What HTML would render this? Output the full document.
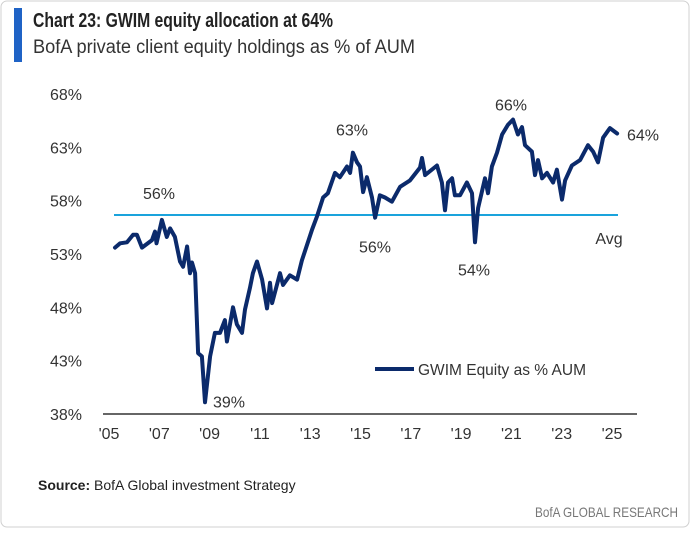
<!DOCTYPE html>
<html><head><meta charset="utf-8"><style>
html,body{margin:0;padding:0;background:#fff;}
body{width:690px;height:528px;overflow:hidden;font-family:"Liberation Sans Narrow","Liberation Sans",sans-serif;}
</style></head><body>
<svg width="690" height="528" xmlns="http://www.w3.org/2000/svg" id="svg">
<rect x="1" y="1" width="688" height="526" rx="6" fill="#fff" stroke="#d0d0d0"/>
<rect x="14" y="8" width="8" height="54" fill="#1f63c6"/>
<text x="33" y="27" font-size="20" font-weight="bold" fill="#222" textLength="300" lengthAdjust="spacingAndGlyphs">Chart 23: GWIM equity allocation at 64%</text>
<text x="33" y="53" font-size="19" fill="#333" textLength="382" lengthAdjust="spacingAndGlyphs">BofA private client equity holdings as % of AUM</text>
<g id="yaxis"></g>
<g id="xaxis"></g>
<g id="plot"></g>
<g id="ann"></g>
<line x1="375" y1="369" x2="414" y2="369" stroke="#0b2a6b" stroke-width="4"/>
<text x="418" y="375" font-size="16" fill="#333" textLength="168" lengthAdjust="spacingAndGlyphs">GWIM Equity as % AUM</text>
<text x="38" y="490" font-size="14" fill="#222"><tspan font-weight="bold">Source:</tspan> BofA Global investment Strategy</text>
<text x="535" y="517" font-size="14" fill="#777" textLength="143" lengthAdjust="spacingAndGlyphs">BofA GLOBAL RESEARCH</text>
</svg>
<script>
const yTicks=[68,63,58,53,48,43,38];
const xTickYears=[2005,2007,2009,2011,2013,2015,2017,2019,2021,2023,2025];
const xTickLabels=["'05","'07","'09","'11","'13","'15","'17","'19","'21","'23","'25"];
const avgValue=56.66;
const years=[2005.47,2005.67,2005.94,2006.18,2006.33,2006.53,2006.92,2007.04,2007.1,2007.31,2007.5,2007.63,2007.82,2008.02,2008.14,2008.3,2008.41,2008.49,2008.61,2008.73,2008.88,2009.0,2009.2,2009.39,2009.59,2009.78,2009.86,2010.1,2010.25,2010.45,2010.57,2010.76,2010.88,2011.04,2011.24,2011.43,2011.55,2011.63,2011.94,2012.06,2012.33,2012.61,2012.8,2013.2,2013.39,2013.63,2013.82,2014.1,2014.29,2014.57,2014.69,2014.8,2014.96,2015.08,2015.2,2015.35,2015.55,2015.67,2015.86,2016.06,2016.33,2016.65,2017.04,2017.43,2017.51,2017.63,2018.1,2018.29,2018.41,2018.53,2018.69,2018.8,2019.0,2019.27,2019.47,2019.59,2019.71,2019.98,2020.1,2020.25,2020.45,2020.65,2020.88,2021.08,2021.27,2021.43,2021.55,2021.82,2021.94,2022.06,2022.22,2022.41,2022.65,2022.8,2023.0,2023.12,2023.39,2023.71,2024.02,2024.22,2024.41,2024.61,2024.88,2025.16];
const values=[53.6,54.0,54.1,54.8,54.8,53.6,54.3,55.1,54.0,56.2,54.6,55.4,54.6,52.3,51.8,53.7,51.2,52.2,51.2,43.7,43.4,39.1,43.4,45.6,45.6,46.8,44.8,48.0,46.4,45.6,47.8,49.8,51.2,52.3,50.6,47.9,50.3,48.4,51.2,50.1,51.0,50.6,52.4,55.3,56.5,58.3,58.7,60.6,60.2,61.2,60.6,62.5,61.6,61.2,58.8,60.2,58.3,56.4,58.5,58.3,57.9,59.3,59.9,61.1,62.0,60.4,61.3,59.7,57.1,59.7,60.1,58.5,58.5,59.7,58.7,54.1,57.3,60.1,58.7,61.2,62.5,64.2,65.1,65.6,64.2,64.9,63.2,62.6,60.4,61.8,60.1,60.6,59.7,60.9,58.1,59.9,61.3,61.8,63.2,62.6,61.6,63.9,64.8,64.3];
const annotations=[["56%",2007.2,56.2,-26],["63%",2014.8,62.5,-22],["39%",2009.0,39.1,0],["56%",2015.67,56.4,30],["54%",2019.59,54.1,28],["66%",2021.08,65.6,-14],["64%",2025.16,64.3,2],["Avg",2024.8,avgValue,24]];
const annX=[159,352,229,375,474,511,643,609];
const NS="http://www.w3.org/2000/svg";
const x=yr=>103+(yr-2005)*25.5;
const y=v=>94+(68-v)*10.667;
function mk(t,a,p){const e=document.createElementNS(NS,t);for(const k in a)e.setAttribute(k,a[k]);p.appendChild(e);return e;}
const ya=document.getElementById('yaxis');
yTicks.forEach(v=>{const t=mk('text',{x:82,y:y(v)+6,'font-size':16,fill:'#333','text-anchor':'end'},ya);


t.textContent=v+'%';});
const xa=document.getElementById('xaxis');
const base=mk('line',{x1:103,y1:414,x2:637,y2:414,stroke:'#333','stroke-width':1.5},xa);


xTickYears.forEach((yr,i)=>{const t=mk('text',{x:x(yr)+6-(yr-2005)*0.35,y:439,'font-size':16,fill:'#333','text-anchor':'middle'},xa);


t.textContent=xTickLabels[i];});
const pl=document.getElementById('plot');
const avg=mk('line',{x1:114,y1:y(avgValue),x2:618,y2:y(avgValue),stroke:'#1aa3dc','stroke-width':2},pl);


const d=years.map((yr,i)=>(i?'L':'M')+x(yr).toFixed(1)+','+y(values[i]).toFixed(1)).join('');
const ln=mk('path',{d:d,fill:'none',stroke:'#0b2a6b','stroke-width':4,'stroke-linejoin':'round','stroke-linecap':'round'},pl);


const an=document.getElementById('ann');
annotations.forEach((a,i)=>{const t=mk('text',{x:annX[i],y:y(a[2])+a[3]+5,'font-size':16,fill:'#333','text-anchor':'middle'},an);


t.textContent=a[0];});
</script>
</body></html>
